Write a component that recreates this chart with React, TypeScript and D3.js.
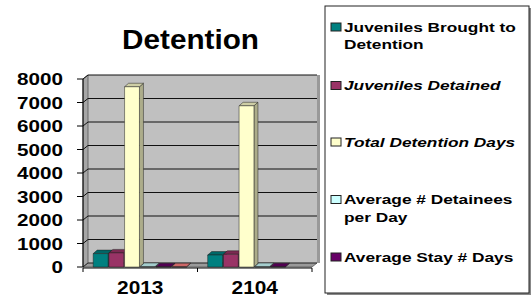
import React from "react";
import * as d3 from "d3";

// chart data
const categories = ["2013", "2104"];
const seriesNames = [
  "Juveniles Brought to Detention",
  "Juveniles Detained",
  "Total Detention Days",
  "Average # Detainees per Day",
  "Average Stay # Days",
  "", // sixth series drawn in the plot but not listed in the legend
];
const broughtToDetention = [570, 510];
const juvenilesDetained = [600, 540];
const totalDetentionDays = [7670, 6860];
const avgDetainees = [21, 19];
const avgStayDays = [13, 14];
const extraSeries = [12, 0];
const yTicks = [0, 1000, 2000, 3000, 4000, 5000, 6000, 7000, 8000];

const seriesValues = [
  broughtToDetention,
  juvenilesDetained,
  totalDetentionDays,
  avgDetainees,
  avgStayDays,
  extraSeries,
];
const colors = ["#008080", "#993366", "#FFFFCC", "#CCFFFF", "#660066", "#FF8080"];

// legend rows: [lines, italic, baseline of first line]
const legendRows = [
  { lines: ["Juveniles Brought to", "Detention"], italic: false, y: 31.5 },
  { lines: ["Juveniles Detained"], italic: true, y: 90 },
  { lines: ["Total Detention Days"], italic: true, y: 146.5 },
  { lines: ["Average # Detainees", "per Day"], italic: false, y: 204 },
  { lines: ["Average Stay # Days"], italic: false, y: 261.5 },
];

const FONT = "'Liberation Sans', Arial, sans-serif";

// text in the reference is a bit wider than Arial, so stretch it horizontally
const Stretch = ({ x, y, sx, size, anchor = "start", italic = false, children }: any) => (
  <text
    transform={`translate(${x},${y}) scale(${sx},1)`}
    textAnchor={anchor}
    fontFamily={FONT}
    fontWeight="bold"
    fontStyle={italic ? "italic" : "normal"}
    fontSize={size}
    fill="#000"
  >
    {children}
  </text>
);

const App = () => {
  const width = 531;
  const height = 297;
  const x0 = 83;
  const x1 = 312;
  const dx = 5; // depth of the walls
  const dy = -4;
  const bdx = 4; // depth of the bars
  const bdy = -3.5;

  const xScale = d3.scaleBand<string>().domain(categories).range([x0, x1]).padding(0);
  const inner = d3
    .scaleBand<number>()
    .domain(d3.range(seriesValues.length))
    .range([0, xScale.bandwidth()])
    .paddingInner(0)
    .paddingOuter(0.65);
  const yScale = d3.scaleLinear().domain([0, 8000]).range([267, 79]);

  const yTop = yScale(8000);
  const yBase = yScale(0);
  const pts = (p: number[][]) => p.map((q) => q.join(",")).join(" ");

  const bars: any[] = [];
  categories.forEach((c, ci) => {
    seriesValues.forEach((vals, si) => {
      const v = vals[ci];
      if (!v) return;
      const bx = (xScale(c) as number) + (inner(si) as number);
      const w = inner.bandwidth() - 0.8;
      const top = yScale(v);
      const base = d3.color(colors[si])!;
      bars.push(
        <g key={`${ci}-${si}`} stroke="#222" strokeWidth={0.5} strokeLinejoin="round">
          <polygon
            points={pts([[bx + w, top], [bx + w + bdx, top + bdy], [bx + w + bdx, yBase + bdy], [bx + w, yBase]])}
            fill={base.darker(1.1).formatHex()}
          />
          <polygon
            points={pts([[bx, top], [bx + bdx, top + bdy], [bx + w + bdx, top + bdy], [bx + w, top]])}
            fill={base.darker(0.6).formatHex()}
          />
          <rect x={bx} y={top} width={w} height={yBase - top} fill={colors[si]} />
        </g>
      );
    });
  });

  return (
    <svg
      width={width}
      height={height}
      style={{ position: "absolute", left: 0, top: 0, background: "#fff" }}
    >
      {/* title */}
      <Stretch x={190.5} y={49} sx={1.1} size={27} anchor="middle">
        Detention
      </Stretch>

      {/* walls and floor */}
      <polygon
        points={pts([[x0 + dx, yTop + dy], [x1 + dx, yTop + dy], [x1 + dx, yBase + dy], [x0 + dx, yBase + dy]])}
        fill="#C0C0C0"
      />
      <line x1={x1 + dx + 1.5} x2={x1 + dx + 1.5} y1={yTop + dy} y2={yBase + dy} stroke="#999" strokeWidth={3} />
      <polygon
        points={pts([[x0, yTop], [x0 + dx, yTop + dy], [x0 + dx, yBase + dy], [x0, yBase]])}
        fill="#A6A6A6"
        stroke="#555"
        strokeWidth={0.8}
      />
      <polygon
        points={pts([[x0, yBase], [x0 + dx, yBase + dy], [x1 + dx, yBase + dy], [x1, yBase]])}
        fill="#9A9A9A"
        stroke="#555"
        strokeWidth={0.8}
      />

      {/* gridlines on left and back walls */}
      {yTicks.map((t) => (
        <polyline
          key={t}
          points={pts([[x0, yScale(t)], [x0 + dx, yScale(t) + dy], [x1 + dx, yScale(t) + dy]])}
          fill="none"
          stroke="#111"
          strokeWidth={t === 0 ? 0.6 : 1}
        />
      ))}

      {bars}

      {/* value axis */}
      <line x1={x0} x2={x0} y1={yTop} y2={yBase} stroke="#000" strokeWidth={1} />
      {yTicks.map((t) => (
        <g key={t}>
          <line x1={x0 - 6} x2={x0} y1={yScale(t)} y2={yScale(t)} stroke="#000" />
          <Stretch x={63} y={yScale(t) + 6} sx={1.29} size={16} anchor="end">
            {t}
          </Stretch>
        </g>
      ))}

      {/* category axis */}
      <line x1={x0} x2={x1} y1={yBase + 1} y2={yBase + 1} stroke="#000" />
      {[x0, ...categories.map((c) => (xScale(c) as number) + xScale.bandwidth())].map((x, i) => (
        <line key={i} x1={x} x2={x} y1={yBase + 1} y2={yBase + 5} stroke="#000" />
      ))}
      {categories.map((c) => (
        <Stretch key={c} x={(xScale(c) as number) + xScale.bandwidth() / 2} y={293.5} sx={1.16} size={18} anchor="middle">
          {c}
        </Stretch>
      ))}

      {/* legend */}
      <rect x={327} y={8} width={204} height={287} fill="#888" />
      <rect x={325} y={6} width={204} height={287} fill="#fff" stroke="#222" strokeWidth={1} />
      {legendRows.map((r, i) => (
        <g key={seriesNames[i]}>
          <rect x={331} y={r.y - 8.5} width={10} height={8} fill={colors[i]} stroke="#222" strokeWidth={1} />
          {r.lines.map((ln, li) => (
            <Stretch key={li} x={344} y={r.y + li * 17.5} sx={1.33} size={13} italic={r.italic}>
              {ln}
            </Stretch>
          ))}
        </g>
      ))}
    </svg>
  );
};

export default App;
